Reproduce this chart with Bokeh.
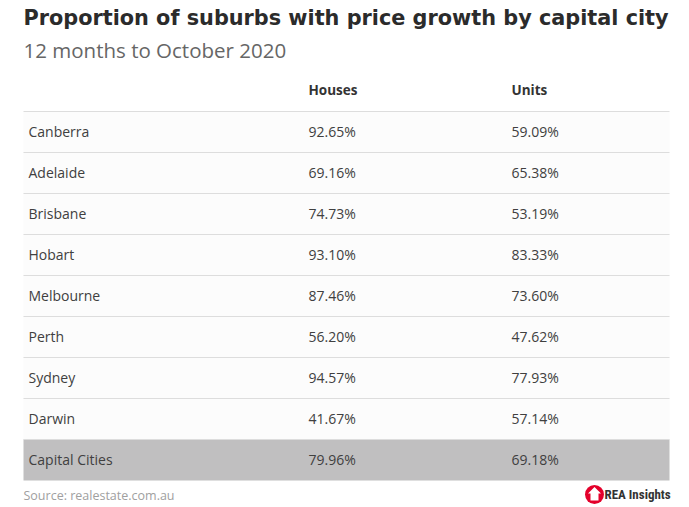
from bokeh.plotting import figure
from bokeh.models import Range1d, ColumnDataSource
from bokeh.core.properties import value
from bokeh.embed import file_html
from bokeh.resources import INLINE

title = "Proportion of suburbs with price growth by capital city"
subtitle = "12 months to October 2020"
col_headers = ["Houses", "Units"]
cities = ["Canberra", "Adelaide", "Brisbane", "Hobart", "Melbourne",
          "Perth", "Sydney", "Darwin", "Capital Cities"]
houses = [92.65, 69.16, 74.73, 93.10, 87.46, 56.20, 94.57, 41.67, 79.96]
units = [59.09, 65.38, 53.19, 83.33, 73.60, 47.62, 77.93, 57.14, 69.18]
source_note = "Source: realestate.com.au"
brand = "REA Insights"

# layout (in pixel-like data units; y grows downward)
X0, X1 = 23, 669
TOP = 111
RH = 41
COL_X = [28, 308, 511]

W, H = 681, 505
p = figure(width=W, height=H, output_backend="svg", toolbar_location=None,
           x_range=Range1d(0, W), y_range=Range1d(H, 0),
           min_border=0, outline_line_color=None)
p.axis.visible = False
p.grid.visible = False
p.background_fill_color = "white"
p.border_fill_color = "white"

n = len(cities)
tops = [TOP + i * RH for i in range(n)]
bottoms = [t + RH for t in tops]
fills = ["#fcfcfc"] * (n - 1) + ["#c0bfc0"]
src = ColumnDataSource(dict(
    left=[X0] * n, right=[X1] * n, top=tops, bottom=bottoms, fill=fills,
    city=cities,
    h=[f"{v:.2f}%" for v in houses],
    u=[f"{v:.2f}%" for v in units],
    yc=[t + RH / 2 - 1 for t in tops],
))
p.quad(left="left", right="right", top="top", bottom="bottom",
       fill_color="fill", line_color=None, source=src)

# separator lines
ys = [TOP + i * RH for i in range(n)]
p.segment(x0=[X0] * len(ys), x1=[X1] * len(ys), y0=ys, y1=ys,
          line_color="#dddddd", line_width=1.2)

font = value("Open Sans")
for col, xx in (("city", COL_X[0]), ("h", COL_X[1]), ("u", COL_X[2])):
    p.text(x=xx, y="yc", text=col, source=src, text_font=font,
           text_font_size="14px", text_color="#404040", text_baseline="middle")

# headers
p.text(x=COL_X[1:], y=[89, 89], text=col_headers, text_font=font,
       text_font_style="bold", text_font_size="13.5px", text_color="#333333",
       text_baseline="middle")

# title and subtitle
p.text(x=[23], y=[17], text=[title], text_font=value("DejaVu Sans"),
       text_font_style="bold", text_font_size="20.8px", text_color="#2b2b2b",
       text_baseline="middle")
p.text(x=[23], y=[49], text=[subtitle], text_font=value("Open Sans"),
       text_font_size="20.5px", text_color="#666666", text_baseline="middle",
       text_font_style="normal")

# source
p.text(x=[23], y=[495], text=[source_note], text_font=font,
       text_font_size="12.5px", text_color="#a0a0a0", text_baseline="middle")

# brand logo
p.scatter(x=[594], y=[494], size=19, marker="circle", fill_color="#e4002b",
          line_color=None)
p.patch(x=[594, 600.5, 598, 598, 590, 590, 587.5], y=[486.5, 493, 493, 500, 500, 493, 493],
        fill_color="white", line_color=None)
p.text(x=[604], y=[494], text=[brand], text_font=value("Roboto Condensed"),
       text_font_style="bold", text_font_size="13px", text_color="#333333",
       text_baseline="middle")

open("out.html", "w").write(file_html(p, INLINE))
